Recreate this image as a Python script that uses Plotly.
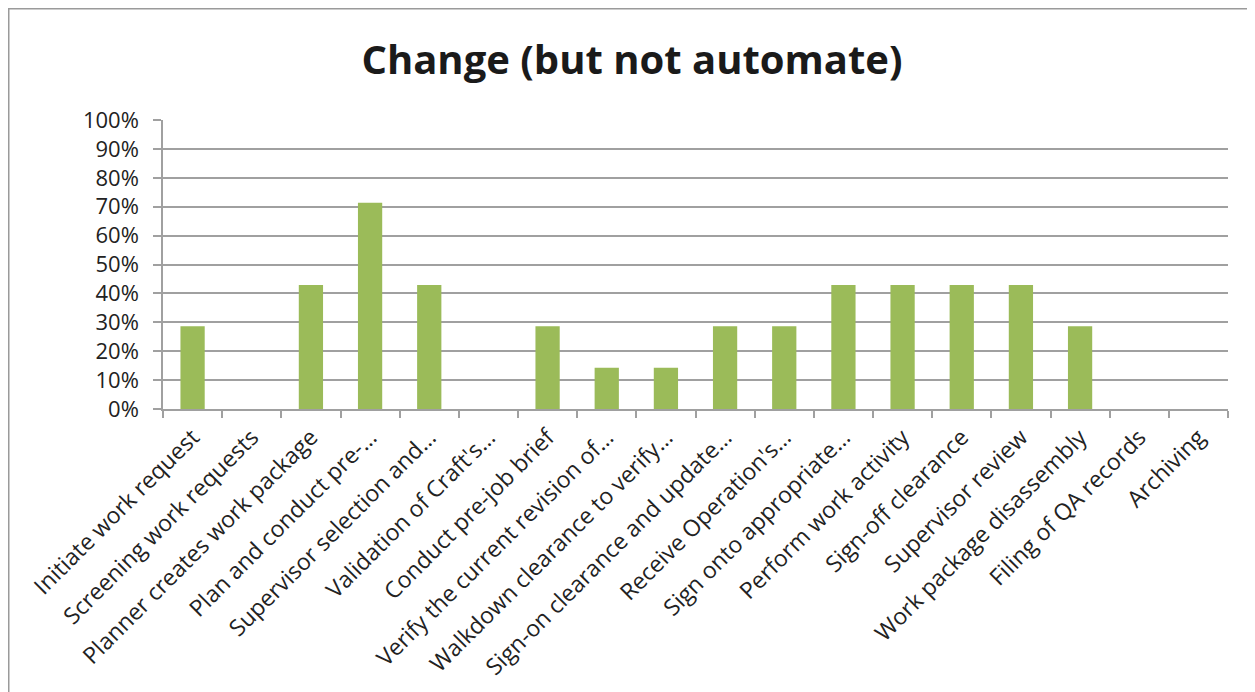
import plotly.graph_objects as go

categories = [
    "Initiate work request",
    "Screening work requests",
    "Planner creates work package",
    "Plan and conduct pre-…",
    "Supervisor selection and…",
    "Validation of Craft's…",
    "Conduct pre-job brief",
    "Verify the current revision of…",
    "Walkdown clearance to verify…",
    "Sign-on clearance and update…",
    "Receive Operation's…",
    "Sign onto appropriate…",
    "Perform work activity",
    "Sign-off clearance",
    "Supervisor review",
    "Work package disassembly",
    "Filing of QA records",
    "Archiving",
]
values = [0.286, 0.0, 0.429, 0.714, 0.429, 0.0, 0.286, 0.143, 0.143, 0.286,
          0.286, 0.429, 0.429, 0.429, 0.429, 0.286, 0.0, 0.0]
y_ticks = [i / 10 for i in range(11)]
title_text = "Change (but not automate)"

# page body has an 8px margin, so the figure is offset by 8px
OFF = 8
W, H = 1255 - OFF, 692 - OFF
L, R, T, B = 163 - OFF, 1255 - 1228, 120 - OFF, 692 - 409
pw, ph = W - L - R, H - T - B

def px_x(x):
    return (x - OFF - L) / pw

def px_y(y):
    return (H - B - (y - OFF)) / ph

fig = go.Figure(go.Bar(
    x=categories, y=values,
    marker=dict(color="#9BBB59", line=dict(width=0)),
))

fig.update_layout(
    width=W, height=H,
    margin=dict(l=L, r=R, t=T, b=B, autoexpand=False),
    paper_bgcolor="white", plot_bgcolor="white",
    bargap=0.59,
    showlegend=False,
    font=dict(family="Open Sans", color="#1a1a1a", size=18),
    title=dict(text="<b>%s</b>" % title_text, x=((362 + 902) / 2 - OFF) / W, xanchor="center",
               y=1 - (60 - OFF) / H, yanchor="middle",
               font=dict(family="Open Sans", size=40, color="#1a1a1a")),
    shapes=[dict(type="rect", xref="paper", yref="paper",
                 x0=px_x(8.5), x1=px_x(1253), y0=px_y(700), y1=px_y(8.5),
                 line=dict(color="#9a9a9a", width=2), layer="below")],
)
fig.update_xaxes(
    type="category", tickangle=-45, tickson="boundaries",
    ticks="outside", ticklen=7, tickcolor="#a0a0a0", tickwidth=1.5,
    showline=True, linecolor="#a0a0a0", linewidth=1.5,
    showgrid=False, tickfont=dict(size=23, color="#222222"), automargin=False,
    ticklabelstandoff=4,
)
fig.update_yaxes(
    range=[0, 1], tickvals=y_ticks, tickformat=".0%",
    ticks="outside", ticklen=8, tickcolor="#a0a0a0", tickwidth=1.5,
    showline=True, linecolor="#a0a0a0", linewidth=1.5,
    showgrid=True, gridcolor="#a0a0a0", gridwidth=1.5,
    zeroline=False, tickfont=dict(size=22, color="#222222"), automargin=False,
    ticklabelstandoff=10,
)

fig.write_html("out.html")
